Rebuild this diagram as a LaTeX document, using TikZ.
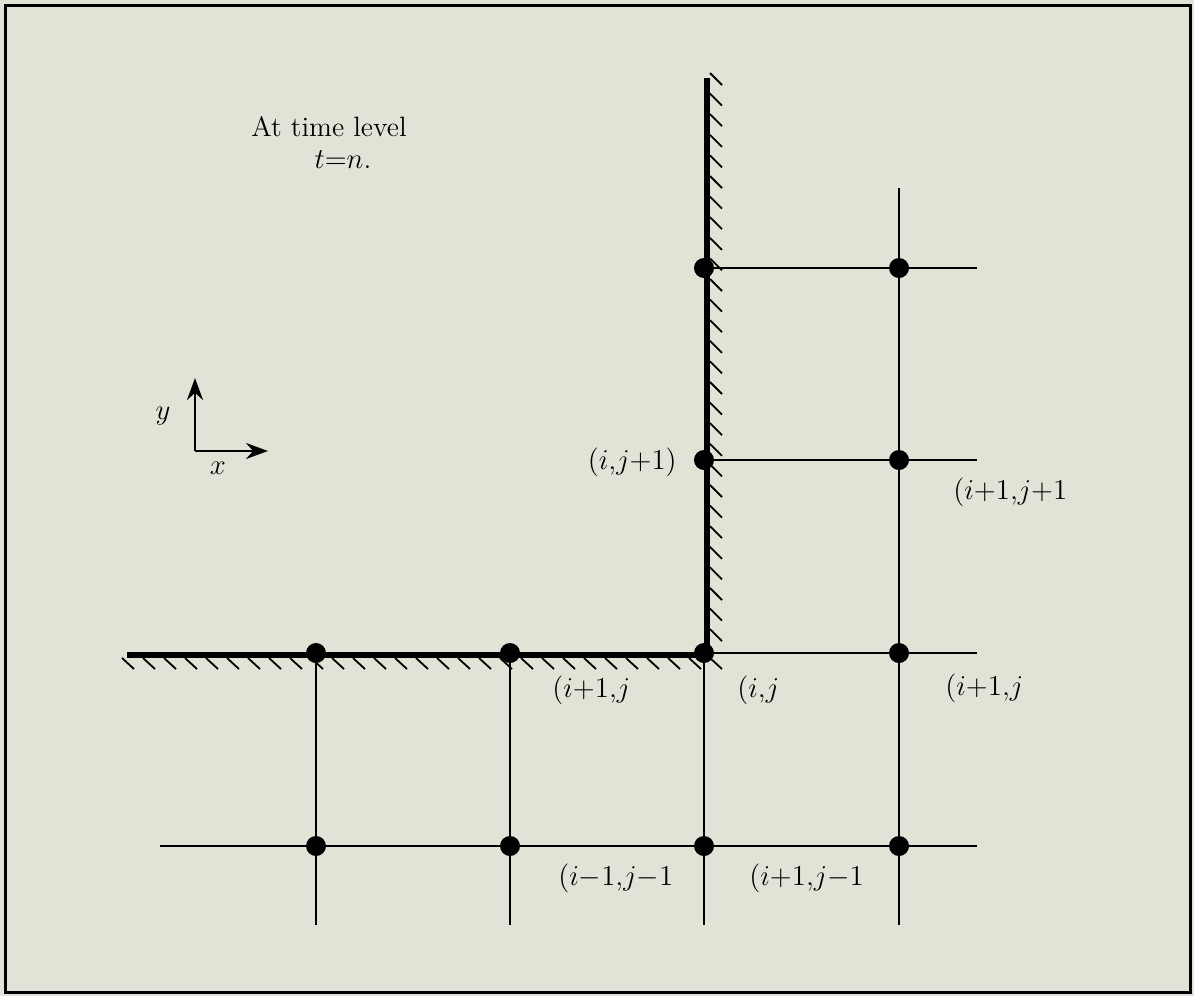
\documentclass[tikz,border=0pt]{standalone}
\usetikzlibrary{arrows.meta}
\definecolor{paper}{RGB}{226,226,214}
\tikzset{
  gpt/.style={circle,fill=black,inner sep=0pt,minimum size=10pt},
  gline/.style={line width=0.9pt},
  wall/.style={line width=2.6pt},
  hatch/.style={line width=0.9pt},
  lbl/.style={inner sep=0pt,font=\fontsize{14}{16}\selectfont}
}
\begin{document}
\begin{tikzpicture}[x=0.5pt,y=-0.5pt,>={Stealth[length=11pt,width=8pt]}]
\fill[paper](0,0) rectangle (1194,996);
\useasboundingbox (0,0) rectangle (1194,996);
\draw[line width=1.5pt](5,5) rectangle (1190,992);
% grid points
\foreach \c/\x in {a/316,b/510,c/704,d/899}{
  \coordinate (\c5) at (\x,925);
  \foreach \r/\y in {1/268,2/460,3/653,4/846}
    \coordinate (\c\r) at (\x,\y);
}
\foreach \r/\y in {1/268,2/460,3/653,4/846}
  \coordinate (e\r) at (977,\y);
\coordinate (d0) at (899,188);
\coordinate (w4) at (160,846);
% wall
\coordinate (wtop) at (707,78);
\coordinate (wcorner) at (707,655);
\coordinate (wleft) at (127,655);
% grid lines
\draw[gline](c1)--(e1);
\draw[gline](c2)--(e2);
\draw[gline](c3)--(e3);
\draw[gline](w4)--(e4);
\draw[gline](d0)--(d5);
\foreach \c in {a,b,c}
  \draw[gline](\c3)--(\c5);
% wall with hatching
\draw[wall](wtop)--(wcorner)--(wleft);
\foreach \y in {73,93.6,...,645}
  \draw[hatch](710,\y)--++(12,12);
\foreach \x in {122,143,...,712}
  \draw[hatch](\x,658)--++(12,11);
% grid nodes
\foreach \p in {c1,c2,c3,c4,d1,d2,d3,d4,a3,a4,b3,b4}
  \node[gpt] (n\p) at (\p) {};
% labels
\node[lbl] (title) at (329,127) {At time level};
\node[lbl] (tlev) at (343,160) {$t{=}n.$};
\node[lbl,anchor=east] (lc2) at (677,462) {$(i{,}j{+}1)$};
\node[lbl,anchor=west] (ld2) at (953,492) {$(i{+}1{,}j{+}1$};
\node[lbl,anchor=west] (ld3) at (945,688) {$(i{+}1{,}j$};
\node[lbl,anchor=west] (lb3) at (552,690) {$(i{+}1{,}j$};
\node[lbl,anchor=west] (lc3) at (737,690) {$(i{,}j$};
\node[lbl,anchor=west] (lb4) at (558,878) {$(i{-}1{,}j{-}1$};
\node[lbl,anchor=west] (lc4) at (749,878) {$(i{+}1{,}j{-}1$};
% axes
\coordinate (o) at (195,451);
\coordinate (ytip) at (195,378);
\coordinate (xtip) at (268,451);
\draw[->,line width=1.2pt](o)--(ytip);
\draw[->,line width=1.2pt](o)--(xtip);
\node[lbl] (ylab) at (163,416) {$y$};
\node[lbl] (xlab) at (218,468) {$x$};
\end{tikzpicture}
\end{document}
